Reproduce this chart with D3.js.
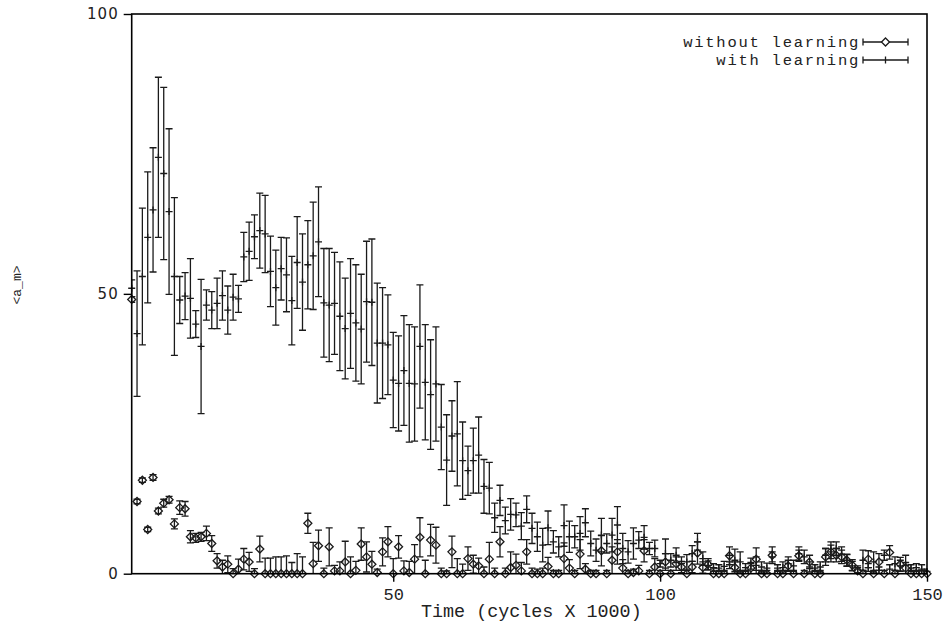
<!DOCTYPE html>
<html>
<head>
<meta charset="utf-8">
<script src="https://cdn.jsdelivr.net/npm/d3@7"></script>
<style>
  body { margin: 0; background: #fff; }
  svg { display: block; }
</style>
</head>
<body>
<div id="chart"></div>
<script>
// Values, one per 1000-cycle step (t = 1 .. 150)
var withLearning = [
  51.0, 42.9, 53.1, 60.1, 65.0, 74.4, 71.5, 64.7, 53.1, 48.9,
  49.6, 49.2, 44.6, 40.6, 48.0, 47.1, 48.3, 49.7, 47.1, 49.4,
  49.1, 56.6, 57.6, 60.2, 61.3, 60.7, 54.0, 51.1, 54.5, 53.4,
  48.8, 55.6, 52.1, 55.2, 56.8, 59.3, 48.4, 48.0, 48.3, 46.0,
  43.8, 46.5, 44.8, 43.7, 48.6, 48.5, 41.2, 41.2, 40.9, 34.6,
  34.0, 36.3, 34.0, 33.9, 40.6, 34.2, 32.0, 33.9, 26.2, 20.3,
  24.6, 25.0, 20.2, 18.4, 20.2, 21.2, 15.6, 15.3, 10.0, 13.1,
  9.5, 10.6, 10.5, 8.5, 11.5, 8.1, 6.6, 5.1, 8.2, 5.7,
  4.8, 8.6, 6.6, 6.6, 7.2, 9.1, 5.4, 4.2, 6.9, 5.4,
  6.9, 8.7, 4.5, 3.9, 5.4, 6.0, 6.5, 4.5, 4.5, 1.8,
  3.6, 2.4, 3.3, 1.8, 2.1, 3.6, 5.7, 2.7, 1.5, 1.1,
  1.0, 1.3, 2.1, 2.4, 2.1, 1.1, 1.8, 1.5, 1.2, 1.0,
  3.0, 1.0, 1.1, 1.8, 1.4, 3.6, 3.0, 1.2, 1.0, 1.2,
  3.3, 3.9, 4.5, 3.5, 2.4, 1.4, 0.8, 2.4, 1.1, 2.1,
  0.6, 3.3, 0.8, 1.8, 1.4, 1.5, 1.0, 1.1, 0.8, 0.4
];
var withLearningErr = [
  1.5, 11.2, 12.2, 11.7, 11.1, 14.3, 15.4, 14.8, 14.1, 4.2,
  4.2, 7.1, 2.4, 12.0, 2.7, 3.3, 4.5, 4.4, 4.3, 4.1,
  2.4, 4.4, 5.2, 3.9, 6.7, 6.9, 6.3, 6.7, 5.6, 6.6,
  7.9, 8.2, 8.6, 7.9, 9.6, 9.8, 9.7, 10.1, 9.1, 9.7,
  9.0, 9.8, 10.4, 9.8, 10.8, 11.3, 10.7, 9.9, 8.9, 8.5,
  8.5, 9.8, 10.5, 10.2, 11.0, 10.3, 9.8, 10.2, 7.6, 8.1,
  6.3, 9.3, 6.9, 4.4, 5.8, 6.8, 4.8, 4.6, 2.6, 2.7,
  2.4, 2.8, 2.1, 2.4, 2.4, 2.7, 2.6, 3.0, 3.0, 2.0,
  1.8, 3.7, 2.8, 2.0, 3.0, 2.5, 2.2, 2.0, 3.0, 1.7,
  3.0, 3.3, 2.7, 2.0, 2.8, 1.5, 2.1, 1.1, 1.5, 0.6,
  2.6, 1.2, 1.3, 1.2, 1.3, 1.4, 1.5, 1.2, 0.8, 0.7,
  0.6, 0.9, 1.2, 2.0, 1.8, 0.7, 1.0, 1.5, 0.9, 0.9,
  0.9, 0.6, 1.0, 1.2, 1.0, 1.2, 1.2, 0.9, 0.6, 0.9,
  1.2, 1.2, 1.2, 1.3, 1.1, 0.8, 0.6, 1.8, 0.7, 1.8,
  0.6, 0.9, 0.8, 1.2, 1.0, 1.8, 0.6, 0.7, 0.8, 0.4
];
var withoutLearning = [
  49.0, 12.9, 16.7, 7.9, 17.2, 11.2, 12.6, 13.2, 8.9, 11.8,
  11.6, 6.6, 6.4, 6.6, 7.2, 5.4, 2.3, 1.2, 1.7, 0.0,
  0.8, 2.6, 2.1, 0.0, 4.4, 0.0, 0.0, 0.0, 0.0, 0.0,
  0.0, 0.0, 0.0, 9.0, 1.8, 5.0, 0.0, 4.8, 0.5, 0.5,
  2.1, 0.0, 0.6, 5.3, 3.0, 1.7, 0.2, 3.9, 5.7, 0.0,
  4.8, 0.5, 0.2, 2.6, 6.5, 0.0, 6.0, 5.1, 0.0, 0.0,
  3.9, 0.0, 0.0, 2.7, 1.7, 1.4, 0.0, 2.6, 0.0, 5.7,
  0.0, 1.1, 1.5, 0.5, 3.9, 0.0, 0.0, 0.0, 1.3, 0.0,
  0.0, 2.7, 1.0, 0.0, 3.5, 0.8, 0.0, 0.0, 4.1, 0.0,
  2.4, 3.9, 1.0, 0.0, 0.2, 0.5, 4.1, 0.0, 1.2, 0.0,
  2.1, 0.0, 1.8, 1.2, 0.0, 1.2, 3.7, 1.1, 1.7, 0.0,
  0.0, 0.0, 3.2, 1.1, 0.0, 0.0, 1.0, 2.6, 0.0, 0.0,
  3.3, 0.0, 0.0, 1.4, 0.0, 3.2, 0.0, 2.1, 0.0, 0.0,
  3.0, 3.9, 3.3, 3.0, 2.4, 1.5, 0.5, 0.0, 2.6, 0.0,
  2.1, 0.0, 3.8, 0.0, 1.7, 1.0, 0.0, 0.0, 0.0, 0.0
];
var withoutLearningErr = [
  0.5, 0.4, 0.4, 0.4, 0.5, 0.5, 0.7, 0.6, 0.9, 1.2,
  1.3, 1.1, 0.8, 0.8, 1.3, 1.4, 1.3, 1.2, 1.5, 0.9,
  1.8, 1.9, 1.7, 0.9, 2.3, 2.8, 2.8, 3.0, 3.0, 3.2,
  2.0, 3.6, 3.0, 1.8, 3.8, 2.8, 1.0, 3.4, 1.0, 1.6,
  3.7, 3.0, 1.6, 2.9, 2.7, 2.3, 0.6, 2.5, 2.7, 2.7,
  2.0, 1.8, 2.0, 2.6, 3.5, 2.4, 2.8, 3.2, 1.0, 0.5,
  2.8, 2.7, 1.7, 2.1, 1.6, 1.4, 1.2, 3.0, 1.0, 2.7,
  1.0, 2.8, 2.0, 1.5, 2.2, 1.0, 0.8, 1.0, 1.6, 0.6,
  0.6, 2.8, 1.5, 0.6, 2.6, 1.0, 0.6, 0.6, 2.7, 0.6,
  2.4, 2.2, 1.5, 0.6, 0.6, 1.0, 2.0, 0.6, 1.5, 0.6,
  1.5, 0.6, 1.2, 1.0, 0.6, 1.0, 2.0, 1.0, 1.0, 1.0,
  0.6, 0.6, 1.6, 1.0, 0.6, 0.6, 1.0, 2.0, 0.6, 0.6,
  1.5, 0.6, 0.6, 1.0, 0.6, 1.0, 0.6, 1.2, 0.6, 0.6,
  1.5, 1.8, 1.2, 1.2, 1.0, 1.0, 0.6, 0.6, 1.5, 0.6,
  1.5, 0.6, 1.2, 0.6, 1.2, 1.0, 0.6, 0.6, 0.6, 0.6
];
var xTicks = [50, 100, 150];
var yTicks = [0, 50, 100];
var seriesNames = ["without learning", "with learning"];

var svgWidth = 944;
var svgHeight = 625;
var plot = { left: 131.7, right: 927, top: 14, bottom: 573.7 };
var ink = "#1a1a1a";
var monoFont = "'Liberation Mono', 'DejaVu Sans Mono', monospace";
var sansFont = "'DejaVu Sans', 'Liberation Sans', sans-serif";

var svg = d3.select("#chart")
  .append("svg")
  .attr("width", svgWidth)
  .attr("height", svgHeight);

var x = d3.scaleLinear().domain([1, 150]).range([plot.left, plot.right]);
var y = d3.scaleLinear().domain([0, 100]).range([plot.bottom, plot.top]);

svg.append("clipPath").attr("id", "clip")
  .append("rect")
  .attr("x", plot.left).attr("y", plot.top)
  .attr("width", plot.right - plot.left)
  .attr("height", plot.bottom - plot.top);

function toRows(vals, errs) {
  return vals.map(function (v, i) { return { t: i + 1, v: v, e: errs[i] }; });
}
var rowsWith = toRows(withLearning, withLearningErr);
var rowsWithout = toRows(withoutLearning, withoutLearningErr);

var cap = 3.5;
function errPath(d) {
  var cx = x(d.t), y1 = y(d.v + d.e), y2 = y(d.v - d.e);
  return "M" + cx + "," + y1 + "V" + y2 +
    "M" + (cx - cap) + "," + y1 + "H" + (cx + cap) +
    "M" + (cx - cap) + "," + y2 + "H" + (cx + cap);
}

var bars = svg.append("g").attr("clip-path", "url(#clip)")
  .attr("fill", "none").attr("stroke", ink).attr("stroke-width", 1.3);

bars.selectAll(".ew").data(rowsWith).join("path")
  .attr("class", "ew").attr("d", errPath);
bars.selectAll(".ewo").data(rowsWithout).join("path")
  .attr("class", "ewo").attr("d", errPath);

var marks = svg.append("g").attr("fill", "none").attr("stroke", ink).attr("stroke-width", 1.3);

// plus markers (with learning)
marks.selectAll(".plus").data(rowsWith).join("path")
  .attr("class", "plus")
  .attr("d", function (d) {
    var cx = x(d.t), cy = y(d.v);
    return "M" + (cx - 3.5) + "," + cy + "H" + (cx + 3.5) + "M" + cx + "," + (cy - 3.5) + "V" + (cy + 3.5);
  });

// diamonds (without learning)
var dr = 4;
marks.selectAll(".dia").data(rowsWithout).join("path")
  .attr("class", "dia")
  .attr("d", function (d) {
    var cx = x(d.t), cy = y(d.v);
    return "M" + cx + "," + (cy - dr) + "L" + (cx + dr) + "," + cy + "L" + cx + "," + (cy + dr) + "L" + (cx - dr) + "," + cy + "Z";
  });

// frame
svg.append("rect")
  .attr("x", plot.left).attr("y", plot.top)
  .attr("width", plot.right - plot.left)
  .attr("height", plot.bottom - plot.top)
  .attr("fill", "none").attr("stroke", "#000").attr("stroke-width", 1.6);

// axes
var bottomAxis = d3.axisBottom(x).tickValues(xTicks).tickSize(8).tickSizeOuter(0).tickPadding(6);
var leftAxis = d3.axisLeft(y).tickValues(yTicks).tickSize(8).tickSizeOuter(0).tickPadding(5);

var gx = svg.append("g").attr("transform", "translate(0," + plot.bottom + ")").call(bottomAxis);
var gy = svg.append("g").attr("transform", "translate(" + plot.left + ",0)").call(leftAxis);

gx.select(".domain").remove();
gy.select(".domain").remove();
gx.selectAll(".tick line").attr("stroke", "#000").attr("stroke-width", 1.4);
gy.selectAll(".tick line").attr("stroke", "#000").attr("stroke-width", 1.4);
gx.selectAll(".tick text")
  .attr("font-family", monoFont).attr("font-size", 17).attr("fill", "#222");
gy.selectAll(".tick text")
  .attr("font-family", sansFont).attr("font-size", 15).attr("letter-spacing", 1).attr("fill", "#222");

// axis titles
svg.append("text")
  .attr("x", (plot.left + plot.right) / 2 + 2)
  .attr("y", 617)
  .attr("text-anchor", "middle")
  .attr("font-family", monoFont).attr("font-size", 18.4).attr("fill", "#222")
  .text("Time (cycles X 1000)");

svg.append("text")
  .attr("transform", "translate(21,285) rotate(-90)")
  .attr("text-anchor", "middle")
  .attr("font-family", monoFont).attr("font-size", 13).attr("fill", "#222")
  .text("<a_m>");

// legend
var legend = svg.append("g");
var legendRows = [42, 60];
seriesNames.forEach(function (name, i) {
  var ly = legendRows[i];
  legend.append("text")
    .attr("x", 860).attr("y", ly + 5)
    .attr("text-anchor", "end")
    .attr("font-family", monoFont).attr("font-size", 15.5)
    .attr("letter-spacing", 1.75).attr("fill", "#222")
    .text(name);
  var x0 = 863, x1 = 908, xm = (x0 + x1) / 2;
  var p = "M" + x0 + "," + ly + "H" + x1 +
    "M" + x0 + "," + (ly - 3.5) + "V" + (ly + 3.5) +
    "M" + x1 + "," + (ly - 3.5) + "V" + (ly + 3.5);
  if (i === 1) p += "M" + xm + "," + (ly - 3.5) + "V" + (ly + 3.5);
  legend.append("path").attr("d", p).attr("fill", "none").attr("stroke", ink).attr("stroke-width", 1.3);
  if (i === 0) {
    legend.append("path")
      .attr("d", "M" + xm + "," + (ly - dr) + "L" + (xm + dr) + "," + ly + "L" + xm + "," + (ly + dr) + "L" + (xm - dr) + "," + ly + "Z")
      .attr("fill", "#fff").attr("stroke", ink).attr("stroke-width", 1.3);
  }
});
</script>
</body>
</html>
